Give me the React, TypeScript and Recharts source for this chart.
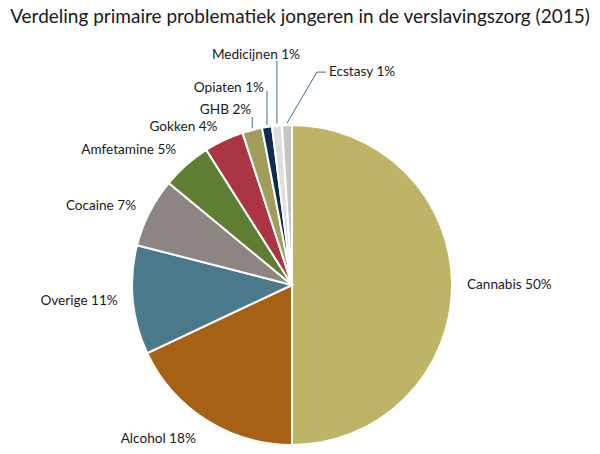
import { PieChart, Pie, Cell } from 'recharts';

const categories = ['Cannabis', 'Alcohol', 'Overige', 'Cocaine', 'Amfetamine', 'Gokken', 'GHB', 'Opiaten', 'Medicijnen', 'Ecstasy'];
const shares = [50, 18, 11, 7, 5, 4, 2, 1, 1, 1];
const colors = ['#BDB466', '#A66114', '#4A798B', '#8D8581', '#5F7D33', '#AB3542', '#A29D5B', '#0E2C51', '#DDDFDE', '#C6C6BE'];

const data = categories.map((name, i) => ({ name, value: shares[i] }));

const RAD = Math.PI / 180;
const FONT = 'Lato, "Noto Sans", sans-serif';
const LABEL_SIZE = 13.6;

// small slices get a leader line: end of line relative to slice edge, then where the text sits
const leaders: Record<string, { dx: number; dy: number; bend?: number; anchor: 'start' | 'middle' | 'end'; lx: number; ly: number }> = {
  GHB: { dx: 0, dy: -11, anchor: 'end', lx: -1, ly: -3 },
  Opiaten: { dx: 0, dy: -34, anchor: 'end', lx: -3, ly: 1 },
  Medicijnen: { dx: 0, dy: -63, anchor: 'middle', lx: -21, ly: -2 },
  Ecstasy: { dx: 30, dy: -51, bend: 9, anchor: 'start', lx: 3, ly: 4 },
};

function renderLabel(props: any) {
  const { cx, cy, midAngle, outerRadius, name, value } = props;
  const cos = Math.cos(-midAngle * RAD);
  const sin = Math.sin(-midAngle * RAD);
  const text = `${name} ${value}%`;
  const lead = leaders[name];
  if (lead) {
    const ex = cx + outerRadius * cos;
    const ey = cy + outerRadius * sin - 2;
    const mx = ex + lead.dx;
    const my = ey + lead.dy;
    const tx = mx + (lead.bend || 0);
    return (
      <g>
        <polyline points={`${ex},${ey} ${mx},${my} ${tx},${my}`} fill="none" stroke="#3F6F86" strokeWidth={1} />
        <text x={tx + lead.lx} y={my + lead.ly} textAnchor={lead.anchor} fontFamily={FONT} fontSize={LABEL_SIZE} fill="#1a1a1a">
          {text}
        </text>
      </g>
    );
  }
  const r = outerRadius + 15;
  let x = cx + r * cos;
  let y = cy + r * sin + 4;
  let anchor: 'start' | 'middle' | 'end' = cos > 0.1 ? 'start' : cos < -0.1 ? 'end' : 'middle';
  if (name === 'Alcohol') {
    anchor = 'middle';
    x -= 40;
    y += 6;
  }
  if (name === 'Amfetamine') y -= 4;
  return (
    <text x={x} y={y} textAnchor={anchor} fontFamily={FONT} fontSize={LABEL_SIZE} fill="#1a1a1a">
      {text}
    </text>
  );
}

export default function App() {
  return (
    <div style={{ position: 'absolute', left: 0, top: 0, width: 600, height: 454, background: '#fff' }}>
      <div
        style={{
          position: 'absolute',
          left: 0,
          top: 4,
          width: 600,
          textAlign: 'center',
          fontFamily: FONT,
          fontSize: 19,
          color: '#1a1a1a',
        }}
      >
        Verdeling primaire problematiek jongeren in de verslavingszorg (2015)
      </div>
      <PieChart width={600} height={454} margin={{ top: 0, right: 0, bottom: 0, left: 0 }}>
        <Pie
          data={data}
          dataKey="value"
          nameKey="name"
          cx={292}
          cy={285}
          outerRadius={160}
          startAngle={90}
          endAngle={-270}
          stroke="#fff"
          strokeWidth={2}
          label={renderLabel}
          labelLine={false}
          isAnimationActive={false}
        >
          {data.map((d, i) => (
            <Cell key={d.name} fill={colors[i]} />
          ))}
        </Pie>
      </PieChart>
    </div>
  );
}
